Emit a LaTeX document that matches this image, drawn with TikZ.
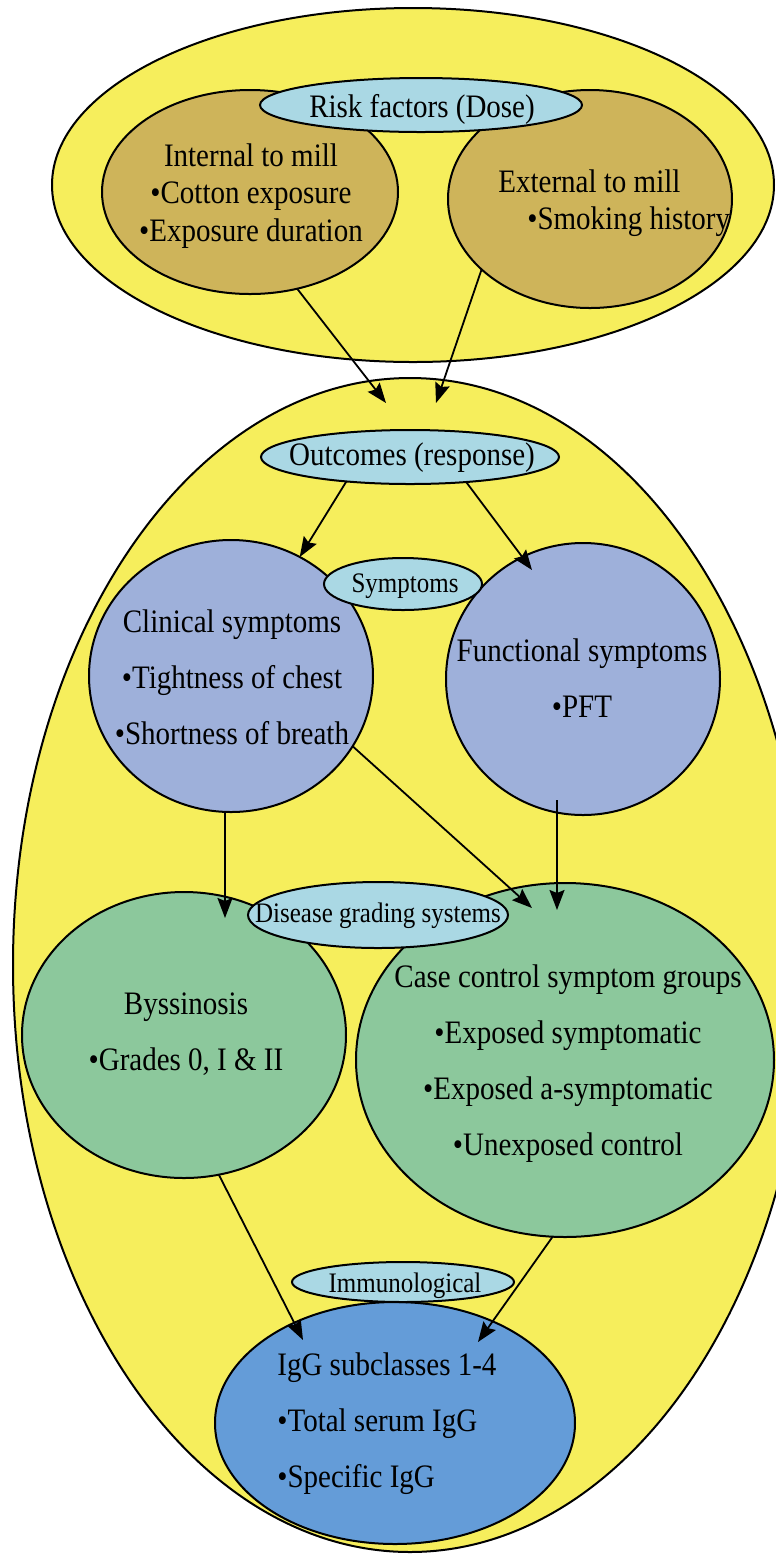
\documentclass[tikz,border=0pt]{standalone}
\usepackage{fontspec}
\usepackage{graphicx}
\setmainfont{Liberation Serif}
\usetikzlibrary{shapes.geometric,arrows.meta}
\definecolor{yel}{RGB}{246,238,92}
\definecolor{olv}{RGB}{206,180,90}
\definecolor{lblue}{RGB}{170,216,228}
\definecolor{peri}{RGB}{158,176,218}
\definecolor{grn}{RGB}{140,200,156}
\definecolor{igb}{RGB}{100,156,216}
\newcommand{\tl}[1]{\scalebox{1}[1.13]{#1}}
\begin{document}
\begin{tikzpicture}[x=0.5pt,y=-0.5pt,
  bubble/.style={ellipse, draw=black, line width=1pt, inner sep=0pt, outer sep=0pt},
  tag/.style={bubble, fill=lblue},
  big/.style={font=\fontsize{14.5}{18.75}\selectfont, align=center, inner sep=0pt},
  bigwide/.style={font=\fontsize{14.5}{28}\selectfont, align=center, inner sep=0pt},
  small/.style={font=\fontsize{12.5}{15}\selectfont, inner sep=0pt},
  arr/.style={line width=0.9pt, -{Stealth[length=10pt,width=7.5pt,inset=1.5pt]}}]
\useasboundingbox (0,0) rectangle (776,1555);
\clip (0,0) rectangle (776,1555);
% top group
\node[bubble, fill=yel, minimum width=361pt, minimum height=177pt] (dose) at (413,185) {};
\node[bubble, fill=olv, minimum width=148pt, minimum height=102pt] (int) at (250,192) {};
\node[bubble, fill=olv, minimum width=142pt, minimum height=109pt] (ext) at (590,199) {};
\node[tag, minimum width=161pt, minimum height=27pt] (risk) at (421,105) {};
% lower group
\node[bubble, fill=yel, minimum width=397pt, minimum height=587pt] (resp) at (410,965) {};
\node[bubble, fill=peri, minimum width=142pt, minimum height=136pt] (clin) at (231,676) {};
\node[bubble, fill=peri, minimum width=137pt, minimum height=136pt] (func) at (583,679) {};
\node[tag, minimum width=79pt, minimum height=26pt] (symp) at (403,584) {};
\node[tag, minimum width=149pt, minimum height=27pt] (outc) at (410,457) {};
\node[bubble, fill=grn, minimum width=162pt, minimum height=143pt] (byss) at (184,1035) {};
\node[bubble, fill=grn, minimum width=209pt, minimum height=177pt] (case) at (565,1060) {};
\node[tag, minimum width=130pt, minimum height=33pt] (grad) at (378,915) {};
\node[bubble, fill=igb, minimum width=180pt, minimum height=121pt] (igg) at (395,1423) {};
\node[tag, minimum width=111pt, minimum height=20pt] (immu) at (403,1282) {};
% texts
\node[big, anchor=base] (riskT) at (422,117) {\tl{Risk factors (Dose)}};
\node[big] (intT) at (251,196) {\tl{Internal to mill}\\\tl{•Cotton exposure}\\\tl{•Exposure duration}};
\node[big, align=left, anchor=west] (extT) at (498,203) {\tl{External to mill}\\\hspace*{14.5pt}\tl{•Smoking history}};
\node[big, anchor=base] (outcT) at (412,465) {\tl{Outcomes (response)}};
\node[small, anchor=base] (sympT) at (405,592) {\tl{Symptoms}};
\node[bigwide] (clinT) at (232,677.5) {\tl{Clinical symptoms}\\\tl{•Tightness of chest}\\\tl{•Shortness of breath}};
\node[bigwide] (funcT) at (582,678.5) {\tl{Functional symptoms}\\\tl{•PFT}};
\node[small, anchor=base] (gradT) at (378,922) {\tl{Disease grading systems}};
\node[bigwide] (byssT) at (186,1034.5) {\tl{Byssinosis}\\\tl{•Grades 0, I \& II}};
\node[bigwide] (caseT) at (568,1064) {\tl{Case control symptom groups}\\\tl{•Exposed symptomatic}\\\tl{•Exposed a-symptomatic}\\\tl{•Unexposed control}};
\node[small, anchor=base] (immuT) at (405,1292) {\tl{Immunological}};
\node[bigwide, align=left, anchor=west] (iggT) at (277,1424) {\tl{IgG subclasses 1-4}\\\tl{•Total serum IgG}\\\tl{•Specific IgG}};
% arrow end points
\coordinate (e1) at (386,403);
\coordinate (e2) at (436,403);
\coordinate (e4) at (532,570);
\coordinate (e5) at (225,918);
\coordinate (s6) at (557,800);
\coordinate (e6) at (557,910);
\coordinate (e7) at (532,908);
\coordinate (e8) at (303,1340);
\coordinate (e9) at (478,1342);
% arrows
\draw[arr] (int.-64) -- (e1);
\draw[arr] (ext.213) -- (e2);
\draw[arr] (outc.201) -- (clin.60);
\draw[arr] (outc.-24) -- (e4);
\draw[arr] (e5 |- clin.south) -- (e5);
\draw[arr] (s6) -- (e6);
\draw[arr] (clin.-30) -- (e7);
\draw[arr] (byss.-76) -- (e8);
\draw[arr] (case.-94) -- (e9);
\end{tikzpicture}
\end{document}
